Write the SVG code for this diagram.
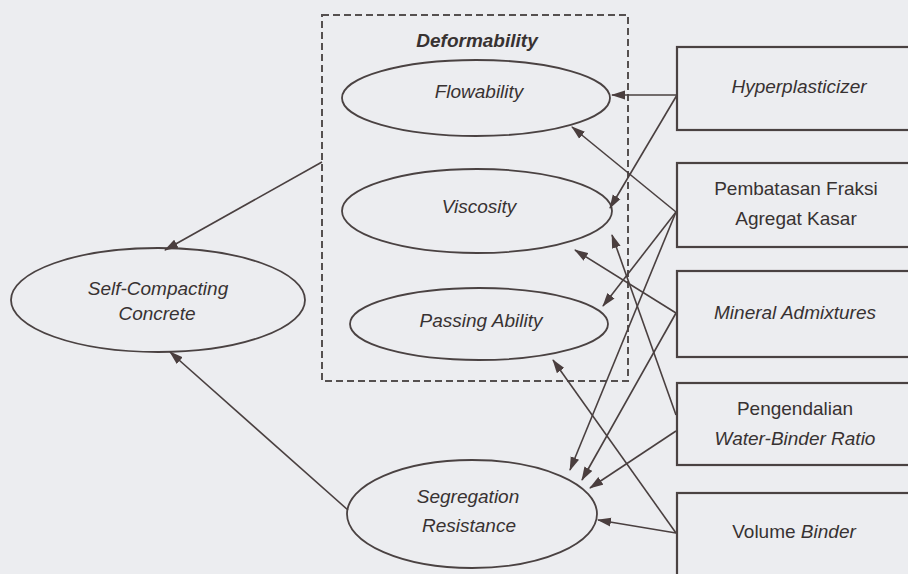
<svg xmlns="http://www.w3.org/2000/svg" width="908" height="574" viewBox="0 0 908 574">
<defs>
<style>
.bg{fill:#ecedf0}
.el{fill:none;stroke:#4a4242;stroke-width:1.8}
.box{fill:none;stroke:#4a4242;stroke-width:2.2}
.dash{fill:none;stroke:#555050;stroke-width:2;stroke-dasharray:7,4}
.t{font-family:"Liberation Sans",Arial,sans-serif;font-size:19px;fill:#383232;text-anchor:middle}
.i{font-style:italic}
.b{font-weight:bold}
.cn line{stroke:#4a4040;stroke-width:1.6;marker-end:url(#ah)}
</style>
<marker id="ah" markerUnits="userSpaceOnUse" markerWidth="14" markerHeight="10" refX="13" refY="5" orient="auto">
<path d="M0,0.5 L14,5 L0,9.5 Z" fill="#4a3e3e"/>
</marker>
</defs>
<rect class="bg" x="0" y="0" width="908" height="574"/>

<g id="deformability">
<rect class="dash" x="322" y="15" width="306" height="366"/>
<text class="t i b" x="477" y="47">Deformability</text>
</g>
<g id="flowability">
<ellipse class="el" cx="476" cy="98" rx="134" ry="38"/>
<text class="t i" x="479" y="98">Flowability</text>
</g>
<g id="viscosity">
<ellipse class="el" cx="477" cy="211" rx="135" ry="42"/>
<text class="t i" x="479" y="213">Viscosity</text>
</g>
<g id="passing">
<ellipse class="el" cx="479" cy="324" rx="129" ry="36"/>
<text class="t i" x="481" y="327">Passing Ability</text>
</g>
<g id="scc">
<ellipse class="el" cx="158" cy="300" rx="147" ry="52"/>
<text class="t i" x="158" y="295">Self-Compacting</text>
<text class="t i" x="157" y="320">Concrete</text>
</g>
<g id="segregation">
<ellipse class="el" cx="472" cy="514" rx="125" ry="54"/>
<text class="t i" x="468" y="503">Segregation</text>
<text class="t i" x="469" y="532">Resistance</text>
</g>

<g id="hyperplasticizer">
<rect class="box" x="677" y="47" width="260" height="83"/>
<text class="t i" x="799" y="93">Hyperplasticizer</text>
</g>
<g id="pembatasan">
<rect class="box" x="677" y="163" width="260" height="84"/>
<text class="t" x="796" y="195">Pembatasan Fraksi</text>
<text class="t" x="796" y="225">Agregat Kasar</text>
</g>
<g id="mineral">
<rect class="box" x="677" y="271" width="260" height="86"/>
<text class="t i" x="795" y="319">Mineral Admixtures</text>
</g>
<g id="pengendalian">
<rect class="box" x="677" y="383" width="260" height="82"/>
<text class="t" x="795" y="415">Pengendalian</text>
<text class="t i" x="795" y="445">Water-Binder Ratio</text>
</g>
<g id="volume">
<rect class="box" x="677" y="493" width="260" height="110"/>
<text class="t" x="794" y="538">Volume <tspan class="i">Binder</tspan></text>
</g>

<g id="connectors" class="cn">
<line x1="677" y1="95" x2="612" y2="95"/>
<line x1="677" y1="95" x2="610" y2="208"/>
<line x1="676" y1="212" x2="572" y2="127"/>
<line x1="676" y1="212" x2="603" y2="306"/>
<line x1="676" y1="212" x2="570" y2="470"/>
<line x1="676" y1="313" x2="575" y2="250"/>
<line x1="676" y1="313" x2="582" y2="480"/>
<line x1="676" y1="415" x2="612" y2="235"/>
<line x1="676" y1="431" x2="590" y2="488"/>
<line x1="676" y1="533" x2="553" y2="360"/>
<line x1="676" y1="533" x2="598" y2="520"/>
<line x1="322" y1="162" x2="165" y2="250"/>
<line x1="348" y1="510" x2="170" y2="352"/>
</g>
</svg>
